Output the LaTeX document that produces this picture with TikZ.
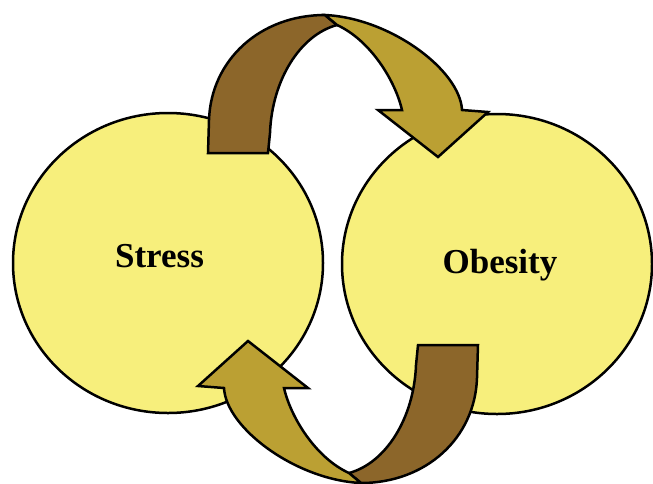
\documentclass[tikz,border=0pt]{standalone}
\usepackage{fontspec}
\setmainfont{Liberation Serif}
\usetikzlibrary{shapes.geometric}
\definecolor{factoryellow}{RGB}{247,239,124}
\definecolor{loopbrown}{RGB}{140,102,42}
\definecolor{loopolive}{RGB}{187,160,51}
\tikzstyle{factor}=[
	ellipse,
	draw=black,
	line width=2.5pt,
	fill=factoryellow,
	minimum width=310pt,
	minimum height=300pt,
	inner sep=0pt
]
\tikzstyle{factorname}=[
	font=\fontsize{35}{40}\selectfont\bfseries,
	anchor=base,
	inner sep=0pt
]
\tikzstyle{looptail}=[
	fill=loopbrown,
	draw=black,
	line width=2.5pt
]
\tikzstyle{loophead}=[
	fill=loopolive,
	draw=black,
	line width=2.5pt
]

\begin{document}
\begin{tikzpicture}[x=1pt,y=-1pt]
\useasboundingbox (0,0) rectangle (653,483);
\node [factor] (Stress) at (168,263) {};
\node [factor] (Obesity) at (497,264) {};
\node [factorname] (StressName) at (159.5,267) {Stress};
\node [factorname] (ObesityName) at (500,273) {Obesity};
% stress -> obesity
\filldraw [looptail] (208,153) -- (209,120) .. controls (211,60) and (260,15) .. (325,15)
	-- (337,25) .. controls (300,35) and (272,80) .. (270,133) -- (268,153) -- cycle;
\filldraw [loophead] (325,15) .. controls (390,18) and (460,70) .. (462,110)
	-- (488,112) -- (438,157) -- (378,110) -- (402,110)
	.. controls (395,80) and (370,40) .. (337,25) -- cycle;
% obesity -> stress
\begin{scope}[rotate around={180:(343,249)}]
\filldraw [looptail] (208,153) -- (209,120) .. controls (211,60) and (260,15) .. (325,15)
	-- (337,25) .. controls (300,35) and (272,80) .. (270,133) -- (268,153) -- cycle;
\filldraw [loophead] (325,15) .. controls (390,18) and (460,70) .. (462,110)
	-- (488,112) -- (438,157) -- (378,110) -- (402,110)
	.. controls (395,80) and (370,40) .. (337,25) -- cycle;
\end{scope}
\end{tikzpicture}
\end{document}
